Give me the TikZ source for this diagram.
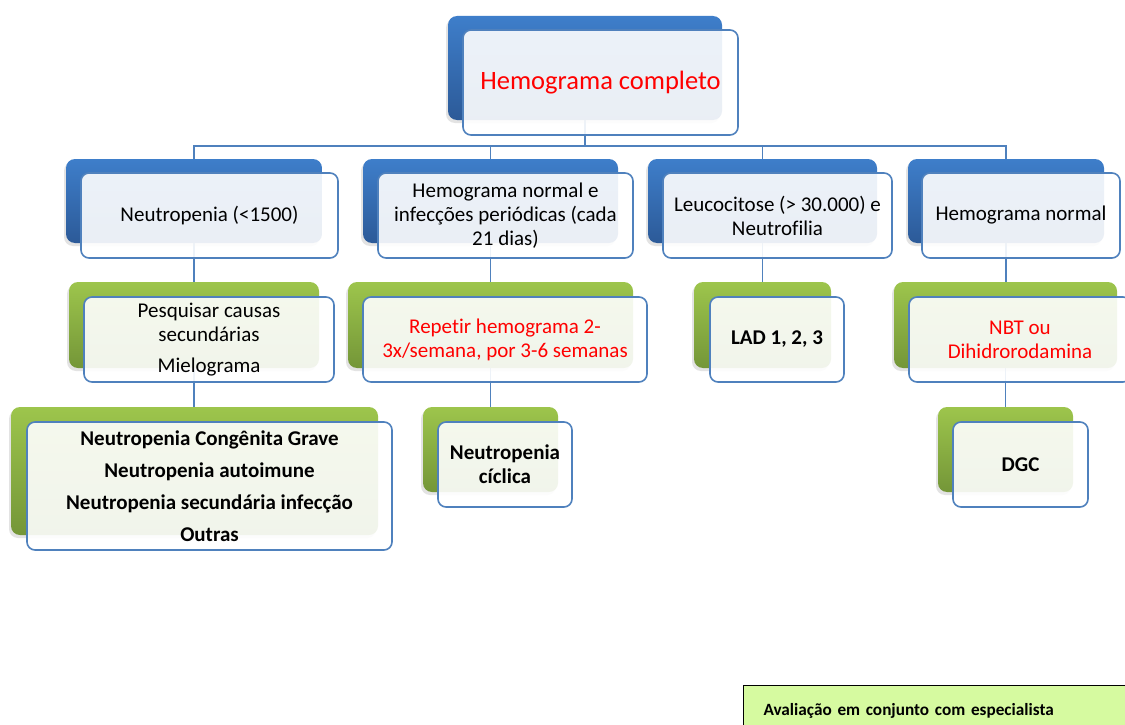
\documentclass[tikz,border=0pt]{standalone}
\usepackage{fontspec}
\setmainfont{Carlito}[Ligatures={NoCommon}]
\usetikzlibrary{shadows,backgrounds}

\definecolor{bluetop}{RGB}{62,126,202}
\definecolor{bluebot}{RGB}{44,90,152}
\definecolor{greentop}{RGB}{157,197,76}
\definecolor{greenbot}{RGB}{116,150,56}
\definecolor{lineblue}{RGB}{79,129,189}
\definecolor{notegreen}{RGB}{214,250,160}

\begin{document}
\begin{tikzpicture}[x=1pt,y=-1pt,
  back/.style={rectangle, rounded corners=9pt, inner sep=0pt, draw=none,
    drop shadow={opacity=0.22, shadow xshift=-2pt, shadow yshift=-3pt}},
  backblue/.style={back, top color=bluetop, bottom color=bluebot},
  backgreen/.style={back, top color=greentop, bottom color=greenbot},
  front/.style={rectangle, rounded corners=8pt, draw=lineblue, line width=1.6pt,
    fill=white, fill opacity=0.9, text opacity=1, inner sep=0pt, align=center,
    font=\fontsize{21}{24}\selectfont},
  frontbold/.style={front, font=\bfseries\fontsize{21}{24}\selectfont},
  link/.style={draw=lineblue, line width=1.8pt}]

\useasboundingbox (0,0) rectangle (1125,725);

% root
\node[backblue, minimum width=274pt, minimum height=104pt] (b0) at (585,68) {};
\node[front, minimum width=275pt, minimum height=105pt, text=red,
  font=\fontsize{26.5}{30}\selectfont] (f0) at (600.5,82.5) {Hemograma completo};

% first level (blue)
\node[backblue, minimum width=256pt, minimum height=84pt] (b1) at (194,201) {};
\node[front, minimum width=257pt, minimum height=85pt] (f1) at (209.5,215.5) {Neutropenia (<1500)};

\node[backblue, minimum width=255pt, minimum height=84pt] (b2) at (490.5,201) {};
\node[front, minimum width=255pt, minimum height=85pt] (f2) at (505.5,215.5)
  {Hemograma normal e\\infecções periódicas (cada\\21 dias)};

\node[backblue, minimum width=229pt, minimum height=84pt] (b3) at (762.5,201) {};
\node[front, minimum width=229pt, minimum height=85pt] (f3) at (777.5,215.5)
  {Leucocitose (> 30.000) e\\Neutrofilia};

\node[backblue, minimum width=196pt, minimum height=84pt] (b4) at (1006,201) {};
\node[front, minimum width=198pt, minimum height=85pt] (f4) at (1021,215.5) {Hemograma normal};

% second level (green)
\node[backgreen, minimum width=250pt, minimum height=86pt] (g1) at (194,325) {};
\node[front, minimum width=250pt, minimum height=85pt] (h1) at (209,339.5)
  {Pesquisar causas\\secundárias\\[7pt]Mielograma};

\node[backgreen, minimum width=285pt, minimum height=86pt] (g2) at (490.5,325) {};
\node[front, minimum width=284pt, minimum height=85pt, text=red] (h2) at (505,339.5)
  {Repetir hemograma 2-\\3x/semana, por 3-6 semanas};

\node[backgreen, minimum width=137pt, minimum height=86pt] (g3) at (762.5,325) {};
\node[frontbold, minimum width=134pt, minimum height=85pt] (h3) at (777,339.5) {LAD 1, 2, 3};

\node[backgreen, minimum width=223pt, minimum height=86pt] (g4) at (1005.5,325) {};
\node[front, minimum width=222pt, minimum height=85pt, text=red] (h4) at (1020,339.5)
  {NBT ou\\Dihidrorodamina};

% third level (green)
\node[backgreen, minimum width=367pt, minimum height=128pt] (k1) at (194.5,471) {};
\node[frontbold, minimum width=365pt, minimum height=128pt] (m1) at (209.5,486)
  {Neutropenia Congênita Grave\\[8pt]Neutropenia autoimune\\[8pt]Neutropenia secundária infecção\\[8pt]Outras};

\node[backgreen, minimum width=135pt, minimum height=85pt] (k2) at (490.5,449.5) {};
\node[frontbold, minimum width=134pt, minimum height=85pt] (m2) at (505,464.5)
  {Neutropenia\\cíclica};

\node[backgreen, minimum width=135pt, minimum height=85pt] (k4) at (1005.5,449.5) {};
\node[frontbold, minimum width=135pt, minimum height=85pt] (m4) at (1020.5,464.5) {DGC};

% note box
\node[draw=black, line width=1.2pt, fill=notegreen, anchor=north west,
  minimum width=400pt, minimum height=50pt, text width=360pt, inner xsep=20pt,
  inner ysep=0pt, align=left, font=\bfseries\fontsize{17.2}{20}\selectfont]
  (note) at (743,685) {Avaliação em conjunto com especialista};

% connectors behind the boxes
\begin{pgfonlayer}{background}
  \fill[white] (0,0) rectangle (1125,725);
  \coordinate (bus) at (0,146);
  \foreach \c in {b1,b2,b3,b4}
    \draw[link] (b0.south) -- (b0.south |- bus) -| (\c.north);
  \draw[link] (b1.south) -- (b1.south |- g1.north);
  \draw[link] (g1.south) -- (g1.south |- k1.north);
  \draw[link] (b2.south) -- (b2.south |- g2.north);
  \draw[link] (g2.south) -- (g2.south |- k2.north);
  \draw[link] (b3.south) -- (b3.south |- g3.north);
  \draw[link] (b4.south) -- (b4.south |- g4.north);
  \draw[link] (g4.south) -- (g4.south |- k4.north);
\end{pgfonlayer}

\end{tikzpicture}
\end{document}
